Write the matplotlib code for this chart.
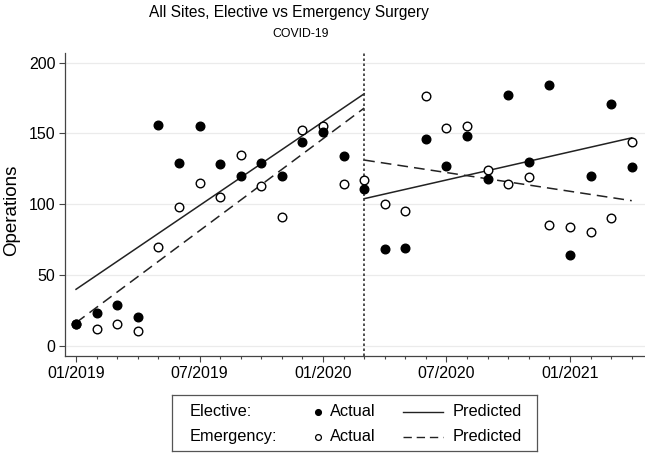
import numpy as np
import matplotlib
matplotlib.use('Agg')
import matplotlib.pyplot as plt
from matplotlib.lines import Line2D

plt.rcParams['font.family'] = ['Liberation Sans', 'DejaVu Sans']

# month index 0 = 01/2019 ... 27 = 04/2021
months = list(range(28))
tick_pos = [0, 6, 12, 18, 24]
tick_labels = ['01/2019', '07/2019', '01/2020', '07/2020', '01/2021']
covid_month = 14

elective = [15, 23, 29, 20, 156, 129, 155, 128, 120, 129, 120, 144, 151, 134,
            111, 68, 69, 146, 127, 148, 118, 177, 130, 184, 64, 120, 171, 126]
emergency = [15, 12, 15, 10, 70, 98, 115, 105, 135, 113, 91, 152, 155, 114,
             117, 100, 95, 176, 154, 155, 124, 114, 119, 85, 84, 80, 90, 144]

# predicted segments (start month, end month) and values at the ends
pre_x = [0, 14]
post_x = [14, 27]
elective_pre = [39.8, 177.9]
elective_post = [103.8, 146.8]
emergency_pre = [16.2, 167.8]
emergency_post = [131.1, 102.4]

fig = plt.figure(figsize=(6.45, 4.54), dpi=100)
ax = fig.add_axes([0.1008, 0.2159, 0.9, 0.667])

ax.set_xlim(-0.535, 27.67)
ax.set_ylim(-7.3, 206.6)

ax.grid(axis='y', color='#ebebeb', lw=0.9)
ax.set_axisbelow(True)

ax.plot(pre_x, elective_pre, color='#222222', lw=1.1)
ax.plot(post_x, elective_post, color='#222222', lw=1.1)
ax.plot(pre_x, emergency_pre, color='#222222', lw=1.1, dashes=(7, 4))
ax.plot(post_x, emergency_post, color='#222222', lw=1.1, dashes=(7, 4))

ax.axvline(covid_month, color='#333333', lw=1.2, ls=(0, (1.5, 1.5)), clip_on=False)

ax.plot(months, emergency, 'o', ms=6.2, mfc='white', mec='black', mew=1.0, ls='none')
ax.plot(months, elective, 'o', ms=6.2, mfc='black', mec='black', ls='none')

for s in ['top', 'right']:
    ax.spines[s].set_visible(False)
for s in ['left', 'bottom']:
    ax.spines[s].set_color('#444444')
    ax.spines[s].set_linewidth(0.9)

ax.set_yticks([0, 50, 100, 150, 200])
ax.set_xticks(tick_pos)
ax.set_xticklabels(tick_labels)
ax.set_xticks(months, minor=True)
ax.tick_params(axis='both', which='major', labelsize=11.5, length=4, width=0.8, color='#444444', pad=3)
ax.tick_params(axis='x', which='minor', length=2.5, width=0.8, color='#444444')

fig.text(12 / 645, 1 - 210 / 454, 'Operations', rotation=90, fontsize=13.5,
         ha='center', va='center')
fig.text(289 / 645, 1 - 13 / 454, 'All Sites, Elective vs Emergency Surgery',
         fontsize=11.2, ha='center', va='center')
fig.text(301 / 645, 1 - 34 / 454, 'COVID-19', fontsize=8.8, ha='center', va='center')

# legend box
lax = fig.add_axes([172 / 645, 3 / 454, 365 / 645, 56 / 454])
lax.set_xlim(172, 537)
lax.set_ylim(451, 395)
lax.set_xticks([])
lax.set_yticks([])
for s in lax.spines.values():
    s.set_color('#555555')
    s.set_linewidth(0.9)

rows = [('Elective:', 'black', '-', 412), ('Emergency:', 'white', (0, (6, 3.5)), 437)]
for label, fc, ls, y in rows:
    lax.text(190, y, label, fontsize=11.8, va='center', ha='left')
    lax.plot([318], [y], 'o', ms=4.2, mfc=fc, mec='black', mew=0.9)
    lax.text(330, y, 'Actual', fontsize=11.8, va='center', ha='left')
    lax.add_line(Line2D([403, 443], [y, y], color='#222222', lw=1.0, ls=ls))
    lax.text(453, y, 'Predicted', fontsize=11.8, va='center', ha='left')

plt.savefig('out.png', dpi=100)
plt.close()
